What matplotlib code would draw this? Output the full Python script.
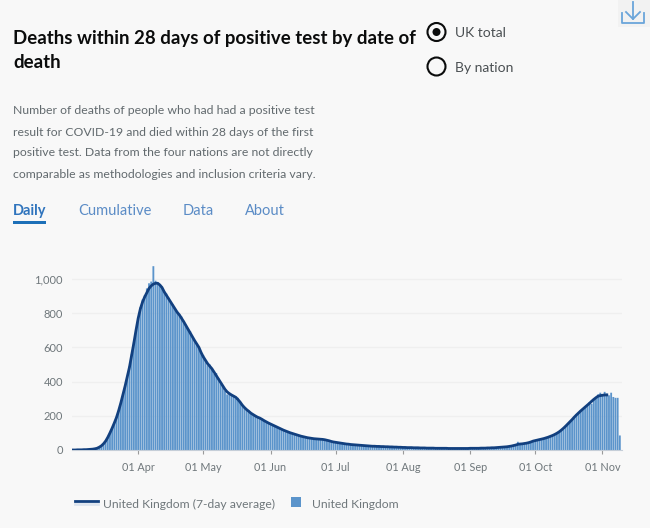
import numpy as np
import pandas as pd
import matplotlib
matplotlib.use("Agg")
import matplotlib.pyplot as plt
from matplotlib.patches import Circle, Rectangle

plt.rcParams['font.family'] = ['Lato', 'DejaVu Sans']

# daily deaths, 2 Mar onwards
daily_mar = [0, 0, 1, 1, 1, 2, 2, 3, 4, 6, 8, 10, 16, 24, 36, 54, 72, 100, 130, 160,
             192, 230, 275, 325, 380, 430, 490, 560, 630, 700]
daily_apr = [775, 835, 880, 905, 945, 975, 985, 1075, 990, 980, 965, 955, 925, 915, 890,
             860, 850, 820, 810, 790, 780, 755, 720, 710, 695, 660, 640, 625, 590, 570]
daily_may = [555, 525, 495, 500, 470, 445, 450, 420, 385, 380, 345, 325, 335, 325, 320,
             300, 305, 280, 265, 250, 235, 230, 215, 205, 205, 190, 190, 180, 170, 160, 160]
daily_jun = [150, 145, 145, 130, 130, 120, 115, 115, 105, 100, 100, 90, 90, 85, 80,
             78, 75, 70, 72, 68, 65, 68, 65, 60, 65, 60, 58, 52, 50, 48]
daily_jul = [46, 42, 42, 38, 38, 35, 33, 32, 32, 29, 29, 27, 27, 26, 25,
             24, 23, 22, 23, 20, 21, 20, 20, 19, 18, 18, 18, 17, 16, 16, 16]
daily_aug = [15, 14, 14, 15, 13, 13, 13, 12, 12, 12, 11, 11, 12, 10, 11, 10,
             10, 10, 10, 10, 9, 10, 9, 9, 9, 9, 10, 8, 9, 9, 9]
daily_sep = [10, 9, 10, 10, 11, 11, 10, 12, 12, 12, 14, 13, 14, 16, 16, 17, 18, 20,
             21, 24, 26, 30, 48, 34, 36, 39, 40, 44, 48, 54]
daily_oct = [55, 56, 62, 64, 66, 72, 74, 82, 84, 92, 96, 108, 116, 120, 142, 150, 166,
             180, 190, 208, 216, 232, 238, 254, 258, 280, 270, 300, 300, 325, 335]
daily_nov = [318, 340, 330, 320, 335, 310, 305, 305, 85]
daily = daily_mar + daily_apr + daily_may + daily_jun + daily_jul + daily_aug + daily_sep + daily_oct + daily_nov

# 7-day average as drawn, 2 Mar to 3 Nov
avg_mar = [0, 0, 1, 1, 1, 2, 2, 3, 4, 5, 7, 10, 16, 24, 36, 52, 74, 100, 128, 158,
           190, 230, 275, 325, 375, 430, 485, 555, 625, 700]
avg_apr = [770, 825, 865, 895, 920, 945, 960, 970, 975, 975, 965, 950, 925, 905, 885,
           865, 845, 825, 805, 790, 770, 750, 728, 706, 685, 662, 640, 620, 600, 570]
avg_may = [545, 525, 505, 490, 475, 455, 435, 415, 395, 375, 355, 340, 330, 322, 315,
           308, 295, 280, 262, 248, 236, 226, 215, 207, 199, 192, 187, 180, 172, 165, 158]
avg_jun = [152, 146, 140, 134, 128, 122, 116, 111, 106, 101, 97, 93, 89, 85, 81,
           78, 75, 72, 70, 68, 66, 65, 64, 63, 62, 60, 57, 54, 50, 47]
avg_jul = [45, 43, 41, 39, 37, 35, 34, 32, 31, 30, 29, 28, 27, 26, 25,
           24, 23, 22, 22, 21, 21, 20, 20, 19, 19, 18, 18, 17, 17, 16, 16]
avg_aug = [15, 15, 14, 14, 14, 13, 13, 13, 12, 12, 12, 11, 11, 11, 11, 10,
           10, 10, 10, 10, 10, 9, 9, 9, 9, 9, 9, 9, 9, 9, 9]
avg_sep = [10, 10, 10, 10, 10, 11, 11, 11, 12, 12, 13, 13, 14, 15, 16, 17, 18, 19,
           21, 23, 26, 29, 33, 35, 36, 38, 40, 43, 47, 52]
avg_oct = [55, 58, 61, 64, 67, 71, 75, 80, 85, 91, 98, 106, 116, 127, 139, 152, 165,
           178, 192, 205, 217, 229, 240, 251, 262, 273, 285, 296, 306, 315, 318]
avg_nov = [320, 322, 322]
average = avg_mar + avg_apr + avg_may + avg_jun + avg_jul + avg_aug + avg_sep + avg_oct + avg_nov

dates = pd.date_range('2020-03-02', periods=len(daily), freq='D')
avg_dates = pd.date_range('2020-03-02', periods=len(average), freq='D')

tick_dates = pd.to_datetime(['2020-04-01', '2020-05-01', '2020-06-01', '2020-07-01',
                             '2020-08-01', '2020-09-01', '2020-10-01', '2020-11-01'])
tick_labels = ['01 Apr', '01 May', '01 Jun', '01 Jul', '01 Aug', '01 Sep', '01 Oct', '01 Nov']
y_ticks = [0, 200, 400, 600, 800, 1000]
y_labels = ['0', '200', '400', '600', '800', '1,000']

title_lines = ['Deaths within 28 days of positive test by date of', 'death']
body_lines = ['Number of deaths of people who had had a positive test',
              'result for COVID-19 and died within 28 days of the first',
              'positive test. Data from the four nations are not directly',
              'comparable as methodologies and inclusion criteria vary.']

W, H = 650, 528
BG = '#f8f8f8'
GREY = '#6f777b'
BLUE = '#5b94cb'
DARK = '#12407f'
TAB = '#5b8cc6'

fig = plt.figure(figsize=(W / 100, H / 100), dpi=100, facecolor=BG)

# page furniture, in pixels
page = fig.add_axes([0, 0, 1, 1], xlim=(0, W), ylim=(H, 0))
page.axis('off')
for i, line in enumerate(title_lines):
    page.text(13, 38.5 + i * 23.5, line, fontsize=13.45, fontweight='bold', color='#0b0c0c', va='center')
for i, line in enumerate(body_lines):
    page.text(13, 111 + i * 21, line, fontsize=8.8, color='#626a6e', va='center')

for x, label, col, weight in [(13, 'Daily', '#2f74bd', 'bold'), (78, 'Cumulative', TAB, 'normal'),
                              (182.5, 'Data', TAB, 'normal'), (245, 'About', TAB, 'normal')]:
    page.text(x, 211, label, fontsize=10.5, color=col, fontweight=weight, va='center')
page.add_patch(Rectangle((13, 221), 33, 3, color='#1d70b8', lw=0))

page.add_patch(Circle((436.5, 32), 9, fc='none', ec='#0b0c0c', lw=1.5))
page.add_patch(Circle((436.5, 32), 4, fc='#0b0c0c', ec='none'))
page.add_patch(Circle((436.5, 66.5), 9, fc='none', ec='#0b0c0c', lw=1.5))
page.text(455, 33, 'UK total', fontsize=10, color='#4a4f52', va='center')
page.text(455, 67.5, 'By nation', fontsize=10, color='#4a4f52', va='center')

# download icon
page.add_patch(Rectangle((618, 0), 32, 27, color='#f2f2f2', lw=0))
page.plot([622, 622, 644, 644], [13, 23, 23, 13], color='#6aa5da', lw=1.3)
page.plot([633, 633], [2, 19], color='#6aa5da', lw=1.3)
page.plot([626, 633, 640], [12, 19, 12], color='#6aa5da', lw=1.3)

# legend
page.plot([75, 98], [501, 501], color=DARK, lw=2)
page.plot([75, 98], [503.5, 503.5], color='#dde4ee', lw=2)
page.text(103, 504, 'United Kingdom (7-day average)', fontsize=8.75, color=GREY, va='center')
page.add_patch(Rectangle((291, 497), 9.5, 9.5, color=BLUE, lw=0))
page.text(312, 504, 'United Kingdom', fontsize=8.75, color=GREY, va='center')

# chart axes: left 72, right 622, baseline 450, 1000 at 279
left, right, base, top = 72, 622, 450, 262
ax = fig.add_axes([left / W, 1 - base / H, (right - left) / W, (base - top) / H], facecolor='none')
bars = ax.bar(dates, daily, width=0.85, color=BLUE, linewidth=0, zorder=2)
for b in bars:
    b.set_snap(False)
ax.plot(avg_dates, average, color=DARK, lw=2, zorder=3)
ax.set_xlim(pd.Timestamp('2020-03-01 12:00'), pd.Timestamp('2020-11-10'))
ax.set_ylim(0, (base - top) / 0.171)
ax.set_yticks(y_ticks, y_labels)
ax.set_xticks(tick_dates, tick_labels)
ax.grid(axis='y', color='#efefef', lw=1, zorder=0)
ax.tick_params(axis='y', length=0, pad=6.5, labelsize=8, labelcolor=GREY)
ax.tick_params(axis='x', length=3, width=0.8, color='#9a9a9a', pad=5.5, labelsize=7.8, labelcolor=GREY)
for name in ['top', 'right', 'left']:
    ax.spines[name].set_visible(False)
ax.spines['bottom'].set_color('#c5ced8')

fig.savefig('out.png', dpi=100, facecolor=BG)
